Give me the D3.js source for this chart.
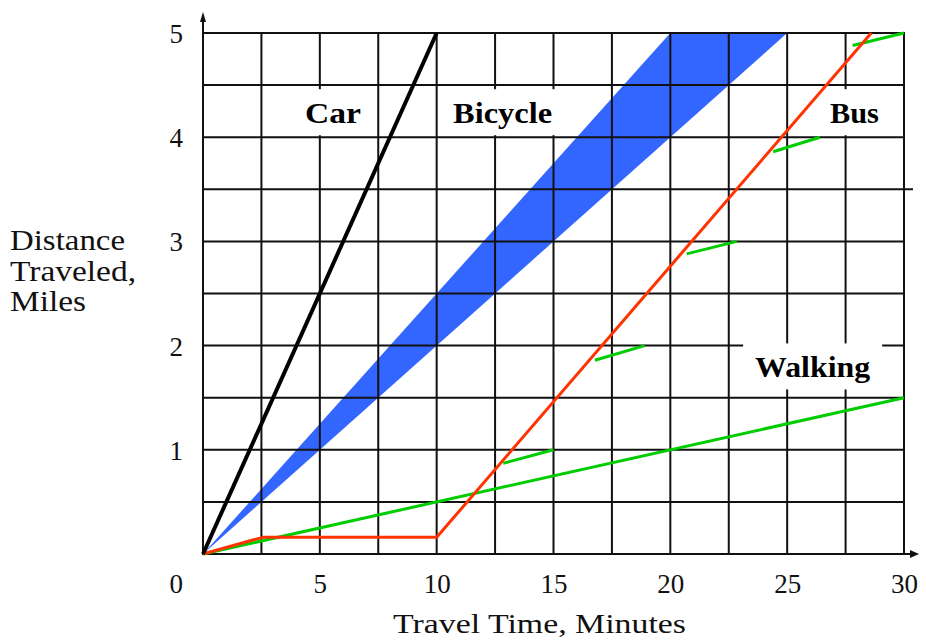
<!DOCTYPE html>
<html><head><meta charset="utf-8">
<script src="https://cdn.jsdelivr.net/npm/d3@7"></script>
<style>body{margin:0;background:#fff} svg{display:block}</style>
</head><body><svg id="c" width="926" height="640"></svg>
<script>
// ---- data ----
const timeTicks = [5, 10, 15, 20, 25, 30];
const distTicks = [1, 2, 3, 4, 5];
const gridTimes = [0, 2.5, 5, 7.5, 10, 12.5, 15, 17.5, 20, 22.5, 25, 27.5, 30];
const gridDists = [0, 0.5, 1, 1.5, 2, 2.5, 3, 3.5, 4, 4.5, 5];
const carLine = [[0, 0], [10, 5]];
const bikeBand = [[0, 0], [20, 5], [25, 5]];
const walkLine = [[0, 0], [30, 1.5]];
const busLine = [[0, 0], [2.55, 0.16], [10, 0.16], [28.6, 5]];
const busWalks = [
  [[12.85, 0.87], [15, 1.0]],
  [[16.77, 1.86], [18.9, 2.0]],
  [[20.7, 2.88], [22.85, 3.0]],
  [[24.4, 3.86], [26.4, 4.0]],
  [[27.8, 4.88], [30, 5.0]]
];
const labelTexts = ["Car", "Bicycle", "Bus", "Walking"];
const labelTimes = [5.56, 12.82, 27.88, 26.09];
const labelDists = [4.24, 4.24, 4.24, 1.80];
const xTitle = "Travel Time, Minutes";
const yTitle = ["Distance", "Traveled,", "Miles"];

// ---- layout ----
const svg = d3.select("#c");
const x = d3.scaleLinear().domain([0, 30]).range([203, 904]);
const y = d3.scaleLinear().domain([0, 5]).range([554, 33]);
const labelWidths = {"Car": 56, "Bicycle": 99, "Bus": 49, "Walking": 115};
const serif = "'Liberation Serif', 'Times New Roman', serif";
const line = d3.line().x(d => x(d[0])).y(d => y(d[1]));

// bicycle band
svg.append("path").attr("d", line(bikeBand) + "Z").attr("fill", "#3366ff");

// grid
const grid = svg.append("g").attr("stroke", "#111").attr("stroke-width", 2);
grid.selectAll("line.v").data(gridTimes).join("line").attr("class", "v")
  .attr("x1", d => x(d)).attr("x2", d => x(d)).attr("y1", y(0) + 1).attr("y2", y(5) - 1);
grid.selectAll("line.h").data(gridDists).join("line").attr("class", "h")
  .attr("y1", d => y(d)).attr("y2", d => y(d)).attr("x1", x(0) - 1)
  .attr("x2", d => d === 0 ? 914 : (d === 3.5 ? 913 : x(30) + 1));
// axis extensions with small arrowheads
grid.append("line").attr("x1", x(0)).attr("x2", x(0)).attr("y1", y(5)).attr("y2", 15);
svg.append("path").attr("d", `M${x(0)-3},22 L${x(0)},12 L${x(0)+3},22 Z`).attr("fill", "#111");
svg.append("path").attr("d", `M910,${y(0)-4} L919,${y(0)} L910,${y(0)+4} Z`).attr("fill", "#111");

// label boxes (white) that interrupt the grid
const labG = svg.append("g");
const labs = labelTexts.map((t, i) => ({text: t, cx: x(labelTimes[i]), cy: y(labelDists[i])}));
labG.selectAll("rect").data(labs).join("rect")
  .attr("x", d => d.cx - labelWidths[d.text] / 2 - 12)
  .attr("width", d => labelWidths[d.text] + 24)
  .attr("y", d => d.cy - 23).attr("height", 46)
  .attr("fill", "#fff");

// lines
const lw = svg.append("g").attr("fill", "none").attr("stroke-linejoin", "round");
lw.append("path").attr("d", line(walkLine)).attr("stroke", "#00cc00").attr("stroke-width", 3);
busWalks.forEach(s => lw.append("path").attr("d", line(s)).attr("stroke", "#00cc00").attr("stroke-width", 3));
lw.append("path").attr("d", line(busLine)).attr("stroke", "#ff3300").attr("stroke-width", 3);
lw.append("path").attr("d", line(carLine)).attr("stroke", "#000").attr("stroke-width", 4);

// labels
labG.selectAll("text").data(labs).join("text")
  .attr("x", d => d.cx).attr("y", d => d.cy + 10.5)
  .attr("text-anchor", "middle")
  .attr("textLength", d => labelWidths[d.text]).attr("lengthAdjust", "spacingAndGlyphs")
  .attr("font-family", serif).attr("font-weight", "bold").attr("font-size", 30)
  .text(d => d.text);

// tick labels via axes
const xAxis = svg.append("g").attr("transform", `translate(0,${y(0)})`)
  .call(d3.axisBottom(x).tickValues(timeTicks).tickSize(0).tickPadding(0).tickFormat(d3.format("d")));
xAxis.select(".domain").remove();
xAxis.selectAll("text").attr("dy", null).attr("y", 39);
const yAxis = svg.append("g").attr("transform", `translate(183,0)`)
  .call(d3.axisLeft(y).tickValues(distTicks).tickSize(0).tickPadding(0).tickFormat(d3.format("d")));
yAxis.select(".domain").remove();
yAxis.selectAll("text").attr("dy", null).attr("y", 9.5);
svg.append("text").attr("x", 183).attr("y", 593).attr("text-anchor", "end").text("0")
  .attr("class", "zero");
svg.selectAll(".tick text, text.zero").attr("font-family", serif).attr("font-size", 27).attr("fill", "#111");

// axis titles
svg.append("text").attr("x", 393).attr("y", 633).attr("textLength", 293).attr("lengthAdjust", "spacingAndGlyphs")
  .attr("font-family", serif).attr("font-size", 28).attr("fill", "#111").text(xTitle);
const yLens = [115, 126, 76];
svg.selectAll("text.yt").data(yTitle).join("text").attr("class", "yt")
  .attr("x", 10).attr("y", (d, i) => 250 + i * 30.5)
  .attr("textLength", (d, i) => yLens[i]).attr("lengthAdjust", "spacingAndGlyphs")
  .attr("font-family", serif).attr("font-size", 29).attr("fill", "#111").text(d => d);
</script></body></html>
